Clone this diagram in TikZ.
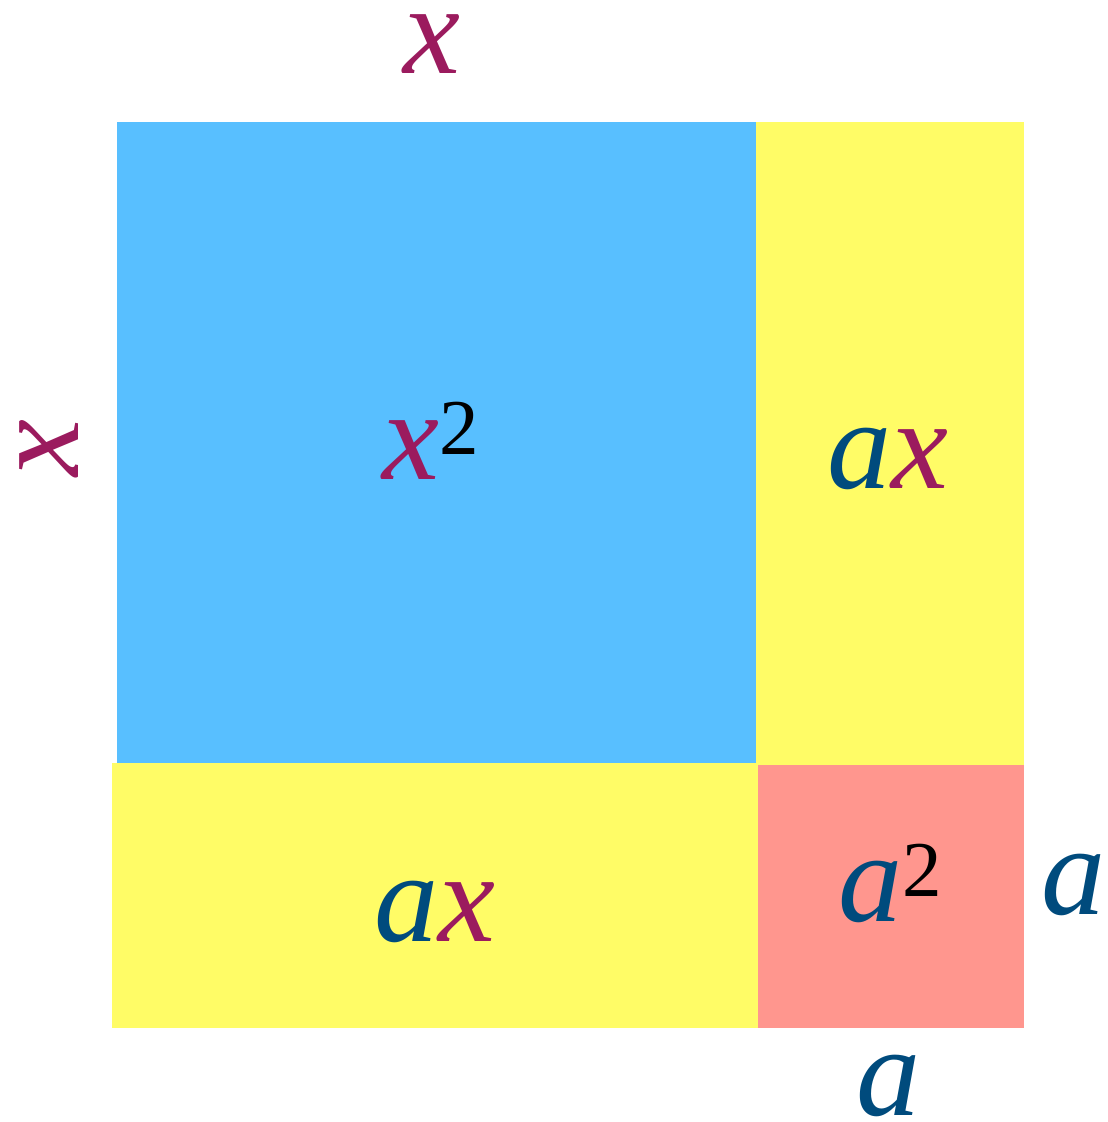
\documentclass[tikz,border=0pt]{standalone}
\usepackage{fontspec}
\setmainfont{Liberation Serif}
\usetikzlibrary{positioning}

\definecolor{xcol}{RGB}{155,27,94}
\definecolor{acol}{RGB}{0,75,125}
\definecolor{sqblue}{RGB}{88,191,255}
\definecolor{sqyellow}{RGB}{255,252,102}
\definecolor{sqpink}{RGB}{255,150,142}

\newcommand{\vx}{\textcolor{xcol}{\itshape x}}
\newcommand{\va}{\textcolor{acol}{\itshape a}}
\newcommand{\powtwo}{{\fontsize{45}{50}\selectfont\raisebox{0.5cm}{2}}}

\begin{document}
\begin{tikzpicture}[
    x=0.02cm, y=-0.02cm,
    lbl/.style={inner sep=0pt, anchor=base, font=\fontsize{73}{80}\selectfont},
    side/.style={inner sep=0pt, font=\fontsize{73}{80}\selectfont}
]
\useasboundingbox (0,0) rectangle (1108,1122);

% REGIONS
\fill[sqblue] (117,122) rectangle (756,763);
\fill[sqyellow] (756,122) rectangle (1024,765);
\fill[sqyellow] (112,763) rectangle (758,1028);
\fill[sqpink] (758,765) rectangle (1024,1028);

% AREAS
\node[lbl] (xx) at (431,479) {\vx\powtwo};
\node[lbl] (ax_right) at (888,488) {\va\vx};
\node[lbl] (ax_bottom) at (435,941) {\va\vx};
\node[lbl] (aa) at (890,921) {\va\powtwo};

% SIDES
\node[lbl] (x_top) at (432,73) {\vx};
\node[side, rotate=90] (x_left) at (49,448) {\vx};
\node[lbl] (a_right) at (1074,914) {\va};
\node[lbl] (a_bottom) at (889,1115) {\va};

\end{tikzpicture}
\end{document}
